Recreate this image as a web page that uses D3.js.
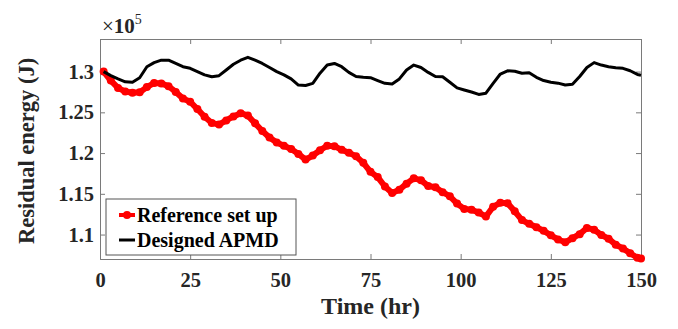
<!DOCTYPE html>
<html>
<head>
<meta charset="utf-8">
<script src="https://cdn.jsdelivr.net/npm/d3@7"></script>
<style>
  body { margin: 0; background: #fff; }
  text { font-family: "Liberation Serif", "Times New Roman", serif; font-weight: bold; }
</style>
</head>
<body>
<div id="chart"></div>
<script>
// time axis (hr), values in units of 1e5 J
var hours = [1,3,5,7,9,11,13,15,17,19,21,23,25,27,29,31,33,35,37,39,41,43,45,47,49,
  51,53,55,57,59,61,63,65,67,69,71,73,75,77,79,81,83,85,87,89,91,93,95,97,99,
  101,103,105,107,109,111,113,115,117,119,121,123,125,127,129,131,133,135,137,139,
  141,143,145,147,149,150];

var referenceSetUp = [1.300,1.289,1.280,1.2755,1.274,1.2745,1.281,1.286,1.2855,1.282,
  1.275,1.267,1.263,1.254,1.2445,1.237,1.235,1.240,1.245,1.249,
  1.246,1.2365,1.227,1.219,1.213,1.209,1.205,1.199,1.192,1.197,
  1.2035,1.209,1.2085,1.204,1.2005,1.196,1.188,1.177,1.1705,1.159,
  1.151,1.155,1.1625,1.169,1.1668,1.1595,1.158,1.152,1.147,1.138,
  1.1315,1.1305,1.127,1.1222,1.1342,1.139,1.1385,1.1285,1.1178,1.1132,
  1.109,1.1047,1.099,1.094,1.0905,1.0955,1.1005,1.108,1.106,1.0995,
  1.095,1.0875,1.083,1.077,1.0715,1.0705];

var designedAPMD = [1.300,1.295,1.291,1.2875,1.287,1.2925,1.306,1.311,1.314,1.314,
  1.310,1.306,1.304,1.300,1.296,1.2937,1.295,1.302,1.309,1.314,
  1.3175,1.314,1.310,1.305,1.300,1.296,1.291,1.2835,1.283,1.2855,
  1.298,1.308,1.310,1.306,1.299,1.294,1.293,1.2925,1.289,1.2856,
  1.2848,1.291,1.302,1.308,1.305,1.299,1.294,1.2937,1.287,1.280,
  1.2774,1.275,1.272,1.2735,1.2856,1.297,1.301,1.3005,1.298,1.2986,
  1.293,1.289,1.287,1.2858,1.2835,1.2845,1.294,1.305,1.311,1.308,
  1.306,1.3048,1.304,1.301,1.2965,1.2955];

var xTicks = [0, 25, 50, 75, 100, 125, 150];
var yTicks = [1.1, 1.15, 1.2, 1.25, 1.3];

var margin = {top: 39, right: 37, bottom: 70, left: 100},
    width = 678 - margin.left - margin.right,
    height = 329 - margin.top - margin.bottom;

var svg = d3.select("#chart")
  .append("svg")
  .attr("width", 678)
  .attr("height", 329);

var g = svg.append("g")
  .attr("transform", "translate(" + margin.left + "," + margin.top + ")");

var x = d3.scaleLinear().domain([0, 150]).range([0, width]);
var y = d3.scaleLinear().domain([1.07, 1.34]).range([height, 0]);

var axisColor = "#7a7a7a";

// axes, ticks pointing inward like MATLAB
var xAxis = g.append("g")
  .attr("transform", "translate(0," + height + ")")
  .call(d3.axisBottom(x).tickValues(xTicks).tickSize(-5).tickPadding(13));
var yAxis = g.append("g")
  .call(d3.axisLeft(y).tickValues(yTicks).tickSize(-5).tickPadding(6)
    .tickFormat(function(d) { return String(d); }));
var topAxis = g.append("g")
  .call(d3.axisTop(x).tickValues(xTicks).tickSize(-5).tickFormat(""));
var rightAxis = g.append("g")
  .attr("transform", "translate(" + width + ",0)")
  .call(d3.axisRight(y).tickValues(yTicks).tickSize(-5).tickFormat(""));

[xAxis, yAxis, topAxis, rightAxis].forEach(function(a) {
  a.selectAll("path, line").attr("stroke", axisColor);
  a.selectAll("text").attr("fill", "#262626").style("font-size", "20.5px");
});

// series
var redData = hours.map(function(t, i) { return [t, referenceSetUp[i]]; });
var blackData = hours.map(function(t, i) { return [t, designedAPMD[i]]; });

var line = d3.line()
  .x(function(d) { return x(d[0]); })
  .y(function(d) { return y(d[1]); });

g.append("path")
  .datum(redData)
  .attr("fill", "none")
  .attr("stroke", "#ff0000")
  .attr("stroke-width", 6)
  .attr("stroke-linejoin", "round")
  .attr("d", line);

g.selectAll(".dot")
  .data(redData)
  .enter().append("circle")
  .attr("cx", function(d) { return x(d[0]); })
  .attr("cy", function(d) { return y(d[1]); })
  .attr("r", 4)
  .attr("fill", "#ff0000");

g.append("path")
  .datum(blackData)
  .attr("fill", "none")
  .attr("stroke", "#000")
  .attr("stroke-width", 3)
  .attr("stroke-linejoin", "round")
  .attr("d", line);

// legend
var legend = g.append("g").attr("transform", "translate(6,160)");
legend.append("rect")
  .attr("width", 190).attr("height", 56)
  .attr("fill", "#fff").attr("stroke", "#555").attr("stroke-width", 1);
legend.append("line")
  .attr("x1", 13).attr("x2", 29).attr("y1", 16).attr("y2", 16)
  .attr("stroke", "#ff0000").attr("stroke-width", 4);
legend.append("circle")
  .attr("cx", 21).attr("cy", 16).attr("r", 4).attr("fill", "#ff0000");
legend.append("text")
  .attr("x", 31).attr("y", 22.5).style("font-size", "20px").text("Reference set up");
legend.append("line")
  .attr("x1", 13).attr("x2", 29).attr("y1", 41).attr("y2", 41)
  .attr("stroke", "#000").attr("stroke-width", 3);
legend.append("text")
  .attr("x", 31).attr("y", 48).style("font-size", "20px").text("Designed APMD");

// axis titles
svg.append("text")
  .attr("x", margin.left + width / 2)
  .attr("y", 314)
  .attr("text-anchor", "middle")
  .style("font-size", "24px")
  .attr("fill", "#262626")
  .text("Time (hr)");

svg.append("text")
  .attr("transform", "translate(34," + (margin.top + height / 2 + 2) + ") rotate(-90)")
  .attr("text-anchor", "middle")
  .style("font-size", "22.5px")
  .attr("fill", "#262626")
  .text("Residual energy (J)");

// exponent label
var expo = svg.append("text")
  .attr("x", 102).attr("y", 33)
  .attr("fill", "#262626")
  .style("font-size", "21px");
expo.append("tspan").style("font-weight", "normal").text("\u00d7");
expo.append("tspan").text("10");
expo.append("tspan").attr("dy", -9).style("font-size", "14px").style("font-weight", "normal").text("5");
</script>
</body>
</html>
